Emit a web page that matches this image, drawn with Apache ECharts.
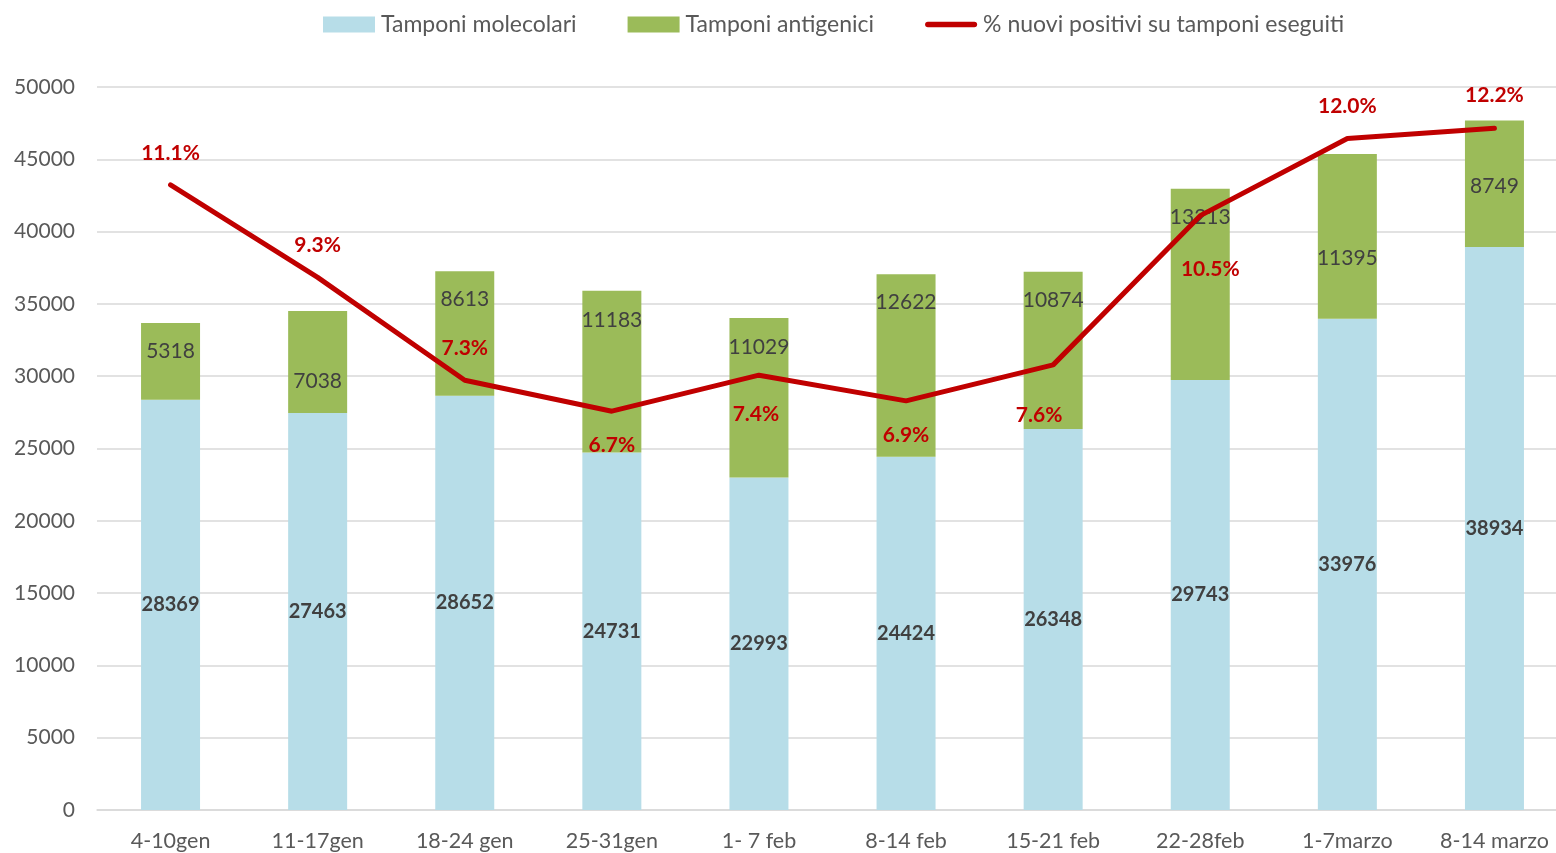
<!DOCTYPE html>
<html>
<head>
<meta charset="utf-8">
<script src="https://cdn.jsdelivr.net/npm/echarts@6/dist/echarts.min.js"></script>
<style>
  html, body { margin: 0; padding: 0; overflow: hidden; background: #fff; }
  #main { width: 1568px; height: 853px; }
</style>
</head>
<body>
<div id="main"></div>
<script>
const weeks = ['4-10gen', '11-17gen', '18-24 gen', '25-31gen', '1- 7 feb', '8-14 feb', '15-21 feb', '22-28feb', '1-7marzo', '8-14 marzo'];
const molecolari = [28369, 27463, 28652, 24731, 22993, 24424, 26348, 29743, 33976, 38934];
const antigenici = [5318, 7038, 8613, 11183, 11029, 12622, 10874, 13213, 11395, 8749];
const percPositivi = [11.1, 9.3, 7.3, 6.7, 7.4, 6.9, 7.6, 10.5, 12.0, 12.2];

// label nudges
const antiOffsets = [-10, 19, -34, -51, -51, -63, -50, -67, 22, 2];
const percOffsets = [[0, -32], [0, -32], [0, -32], [0, 34], [-3, 39], [0, 34], [-14, 50], [10, 54], [0, -32], [0, -33]];

const font = 'Lato, "Open Sans", sans-serif';
const chart = echarts.init(document.getElementById('main'));

chart.setOption({
  animation: false,
  textStyle: { fontFamily: font },
  legend: {
    top: 8,
    left: 318,
    itemWidth: 52,
    itemHeight: 16,
    itemGap: 51,
    textStyle: { fontSize: 23, color: '#595959', fontFamily: font, padding: [0, 0, 0, 1] },
    data: [
      { name: 'Tamponi molecolari', icon: 'rect' },
      { name: 'Tamponi antigenici', icon: 'rect' },
      { name: '% nuovi positivi su tamponi eseguiti', icon: 'path://M3,0 L53,0 A3,3 0 0 1 53,6 L3,6 A3,3 0 0 1 3,0 Z' }
    ]
  },
  grid: { left: 97, right: 0, top: 87, bottom: 43 },
  xAxis: {
    type: 'category',
    data: weeks,
    axisTick: { show: false },
    axisLine: { lineStyle: { color: '#d9d9d9', width: 1.5 } },
    axisLabel: { fontSize: 21.5, color: '#595959', margin: 20, interval: 0 }
  },
  yAxis: [
    {
      type: 'value',
      min: 0,
      max: 50000,
      interval: 5000,
      axisLabel: { fontSize: 21, color: '#595959', margin: 22, formatter: v => String(v) },
      splitLine: { lineStyle: { color: '#d9d9d9', width: 1.5 } },
      axisLine: { show: false },
      axisTick: { show: false }
    },
    {
      type: 'value',
      min: -1.05,
      max: 13,
      show: false,
      splitLine: { show: false }
    }
  ],
  series: [
    {
      name: 'Tamponi molecolari',
      type: 'bar',
      stack: 'tot',
      barWidth: 59,
      itemStyle: { color: '#b7dde8' },
      label: {
        show: true,
        position: 'inside',
        fontSize: 20,
        fontWeight: 'bold',
        color: '#404040'
      },
      data: molecolari
    },
    {
      name: 'Tamponi antigenici',
      type: 'bar',
      stack: 'tot',
      barWidth: 59,
      itemStyle: { color: '#9bbb59' },
      data: antigenici.map((v, i) => ({
        value: v,
        label: {
          show: true,
          position: 'inside',
          offset: [0, antiOffsets[i]],
          fontSize: 21,
          color: '#404040'
        }
      }))
    },
    {
      name: '% nuovi positivi su tamponi eseguiti',
      type: 'line',
      yAxisIndex: 1,
      symbol: 'circle',
      symbolSize: 1,
      z: 5,
      lineStyle: { color: '#c00000', width: 5, cap: 'round' },
      itemStyle: { color: '#c00000' },
      data: percPositivi.map((v, i) => ({
        value: v,
        label: {
          show: true,
          position: 'inside',
          offset: percOffsets[i],
          fontSize: 21,
          fontWeight: 'bold',
          color: '#c00000',
          formatter: p => p.value.toFixed(1) + '%'
        }
      }))
    }
  ]
});
</script>
</body>
</html>
